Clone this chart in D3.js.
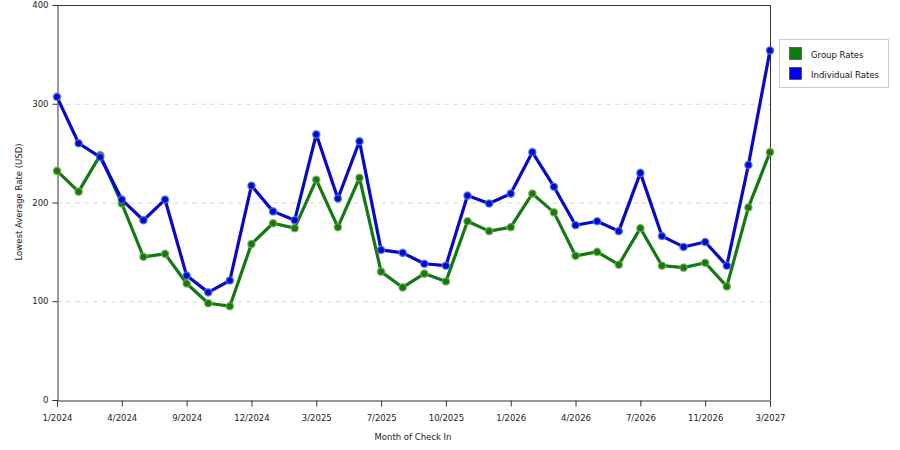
<!DOCTYPE html>
<html><head><meta charset="utf-8">
<script src="https://cdn.jsdelivr.net/npm/d3@7"></script>
<style>
body{margin:0;background:#fff;}
svg{display:block;font-family:"DejaVu Sans",Verdana,sans-serif;}
</style></head>
<body><svg id="c" width="900" height="450"></svg>
<script>
const months = ["1/2024","2/2024","3/2024","4/2024","6/2024","8/2024","9/2024","10/2024","11/2024","12/2024",
"1/2025","2/2025","3/2025","5/2025","6/2025","7/2025","8/2025","9/2025","10/2025","11/2025","12/2025",
"1/2026","2/2026","3/2026","4/2026","5/2026","6/2026","7/2026","8/2026","10/2026","11/2026","12/2026","2/2027","3/2027"];
const tickLabels = ["1/2024","4/2024","9/2024","12/2024","3/2025","7/2025","10/2025","1/2026","4/2026","7/2026","11/2026","3/2027"];
const groupRates = [232,211,248,199,145,148,118,98,95,158,179,174,223,175,225,130,114,128,120,181,171,175,209,190,146,150,137,174,136,134,139,115,195,251];
const individualRates = [307,260,246,203,182,203,126,109,121,217,191,182,269,204,262,152,149,138,136,207,199,209,251,216,177,181,171,230,166,155,160,136,238,354];
const yTicks = [0,100,200,300,400];
const seriesNames = ["Group Rates","Individual Rates"];

const svg = d3.select("#c");
const L=57,R=770,T=5,B=400;
const x = d3.scalePoint().domain(months).range([L,R]);
const y = d3.scaleLinear().domain([0,400]).range([B,T]);

// grid
svg.append("g").selectAll("line").data(yTicks.filter(d=>d>0&&d<400)).join("line")
  .attr("x1",L).attr("x2",R).attr("y1",d=>y(d)+0.5).attr("y2",d=>y(d)+0.5)
  .attr("stroke","#d8d8d8").attr("stroke-dasharray","5,4");

// frame top/right
svg.append("line").attr("x1",L).attr("x2",R+0.5).attr("y1",T+0.5).attr("y2",T+0.5).attr("stroke","#333");
svg.append("line").attr("x1",R+0.5).attr("x2",R+0.5).attr("y1",T).attr("y2",B).attr("stroke","#333");

// axes
const ya = svg.append("g").attr("transform",`translate(${L+0.5},0)`)
  .call(d3.axisLeft(y).tickValues(yTicks).tickSize(5).tickPadding(4).tickFormat(d3.format("d")));
const xa = svg.append("g").attr("transform",`translate(0,${B+0.5})`)
  .call(d3.axisBottom(x).tickValues(tickLabels).tickSize(6).tickPadding(8));
[ya,xa].forEach(a=>{
  a.select(".domain").attr("stroke","#333");
  a.selectAll(".tick line").attr("stroke","#333");
  a.selectAll("text").attr("font-family","DejaVu Sans, sans-serif").attr("font-size",8.5).attr("fill","#222");
});

// titles
svg.append("text").attr("x",413).attr("y",440).attr("text-anchor","middle")
  .attr("font-size",8.5).attr("fill","#222").text("Month of Check In");
svg.append("text").attr("transform","translate(22,202) rotate(-90)").attr("text-anchor","middle")
  .attr("font-size",8.5).attr("fill","#222").text("Lowest Average Rate (USD)");

const colors = ["#137a13","#0808c8"];
const halos = ["#7aa84a","#4a7ae8"];
const data = [groupRates, individualRates];
const line = d3.line().x((d,i)=>x(months[i])).y(d=>y(d));
data.forEach((vals,k)=>{
  svg.append("path").datum(vals).attr("d",line).attr("fill","none")
    .attr("stroke",colors[k]).attr("stroke-width",3.2).attr("stroke-linejoin","round");
  svg.append("g").selectAll("circle").data(vals).join("circle")
    .attr("cx",(d,i)=>x(months[i])).attr("cy",d=>y(d)).attr("r",3.6)
    .attr("fill",colors[k]).attr("stroke",halos[k]).attr("stroke-width",1.4).attr("stroke-opacity",0.8);
});

// legend
const lg = svg.append("g");
lg.append("rect").attr("x",779.5).attr("y",39.5).attr("width",109).attr("height",48)
  .attr("fill","#fff").attr("stroke","#cccccc");
const swatch = ["#0f7a0f","#0000f0"];
seriesNames.forEach((n,i)=>{
  lg.append("rect").attr("x",789.5).attr("y",47.5+i*20).attr("width",12).attr("height",12)
    .attr("fill",swatch[i]).attr("stroke","#333").attr("stroke-width",0.6);
  lg.append("text").attr("x",811).attr("y",57.5+i*20).attr("font-size",8.5).attr("fill","#111").text(n);
});
</script></body></html>
